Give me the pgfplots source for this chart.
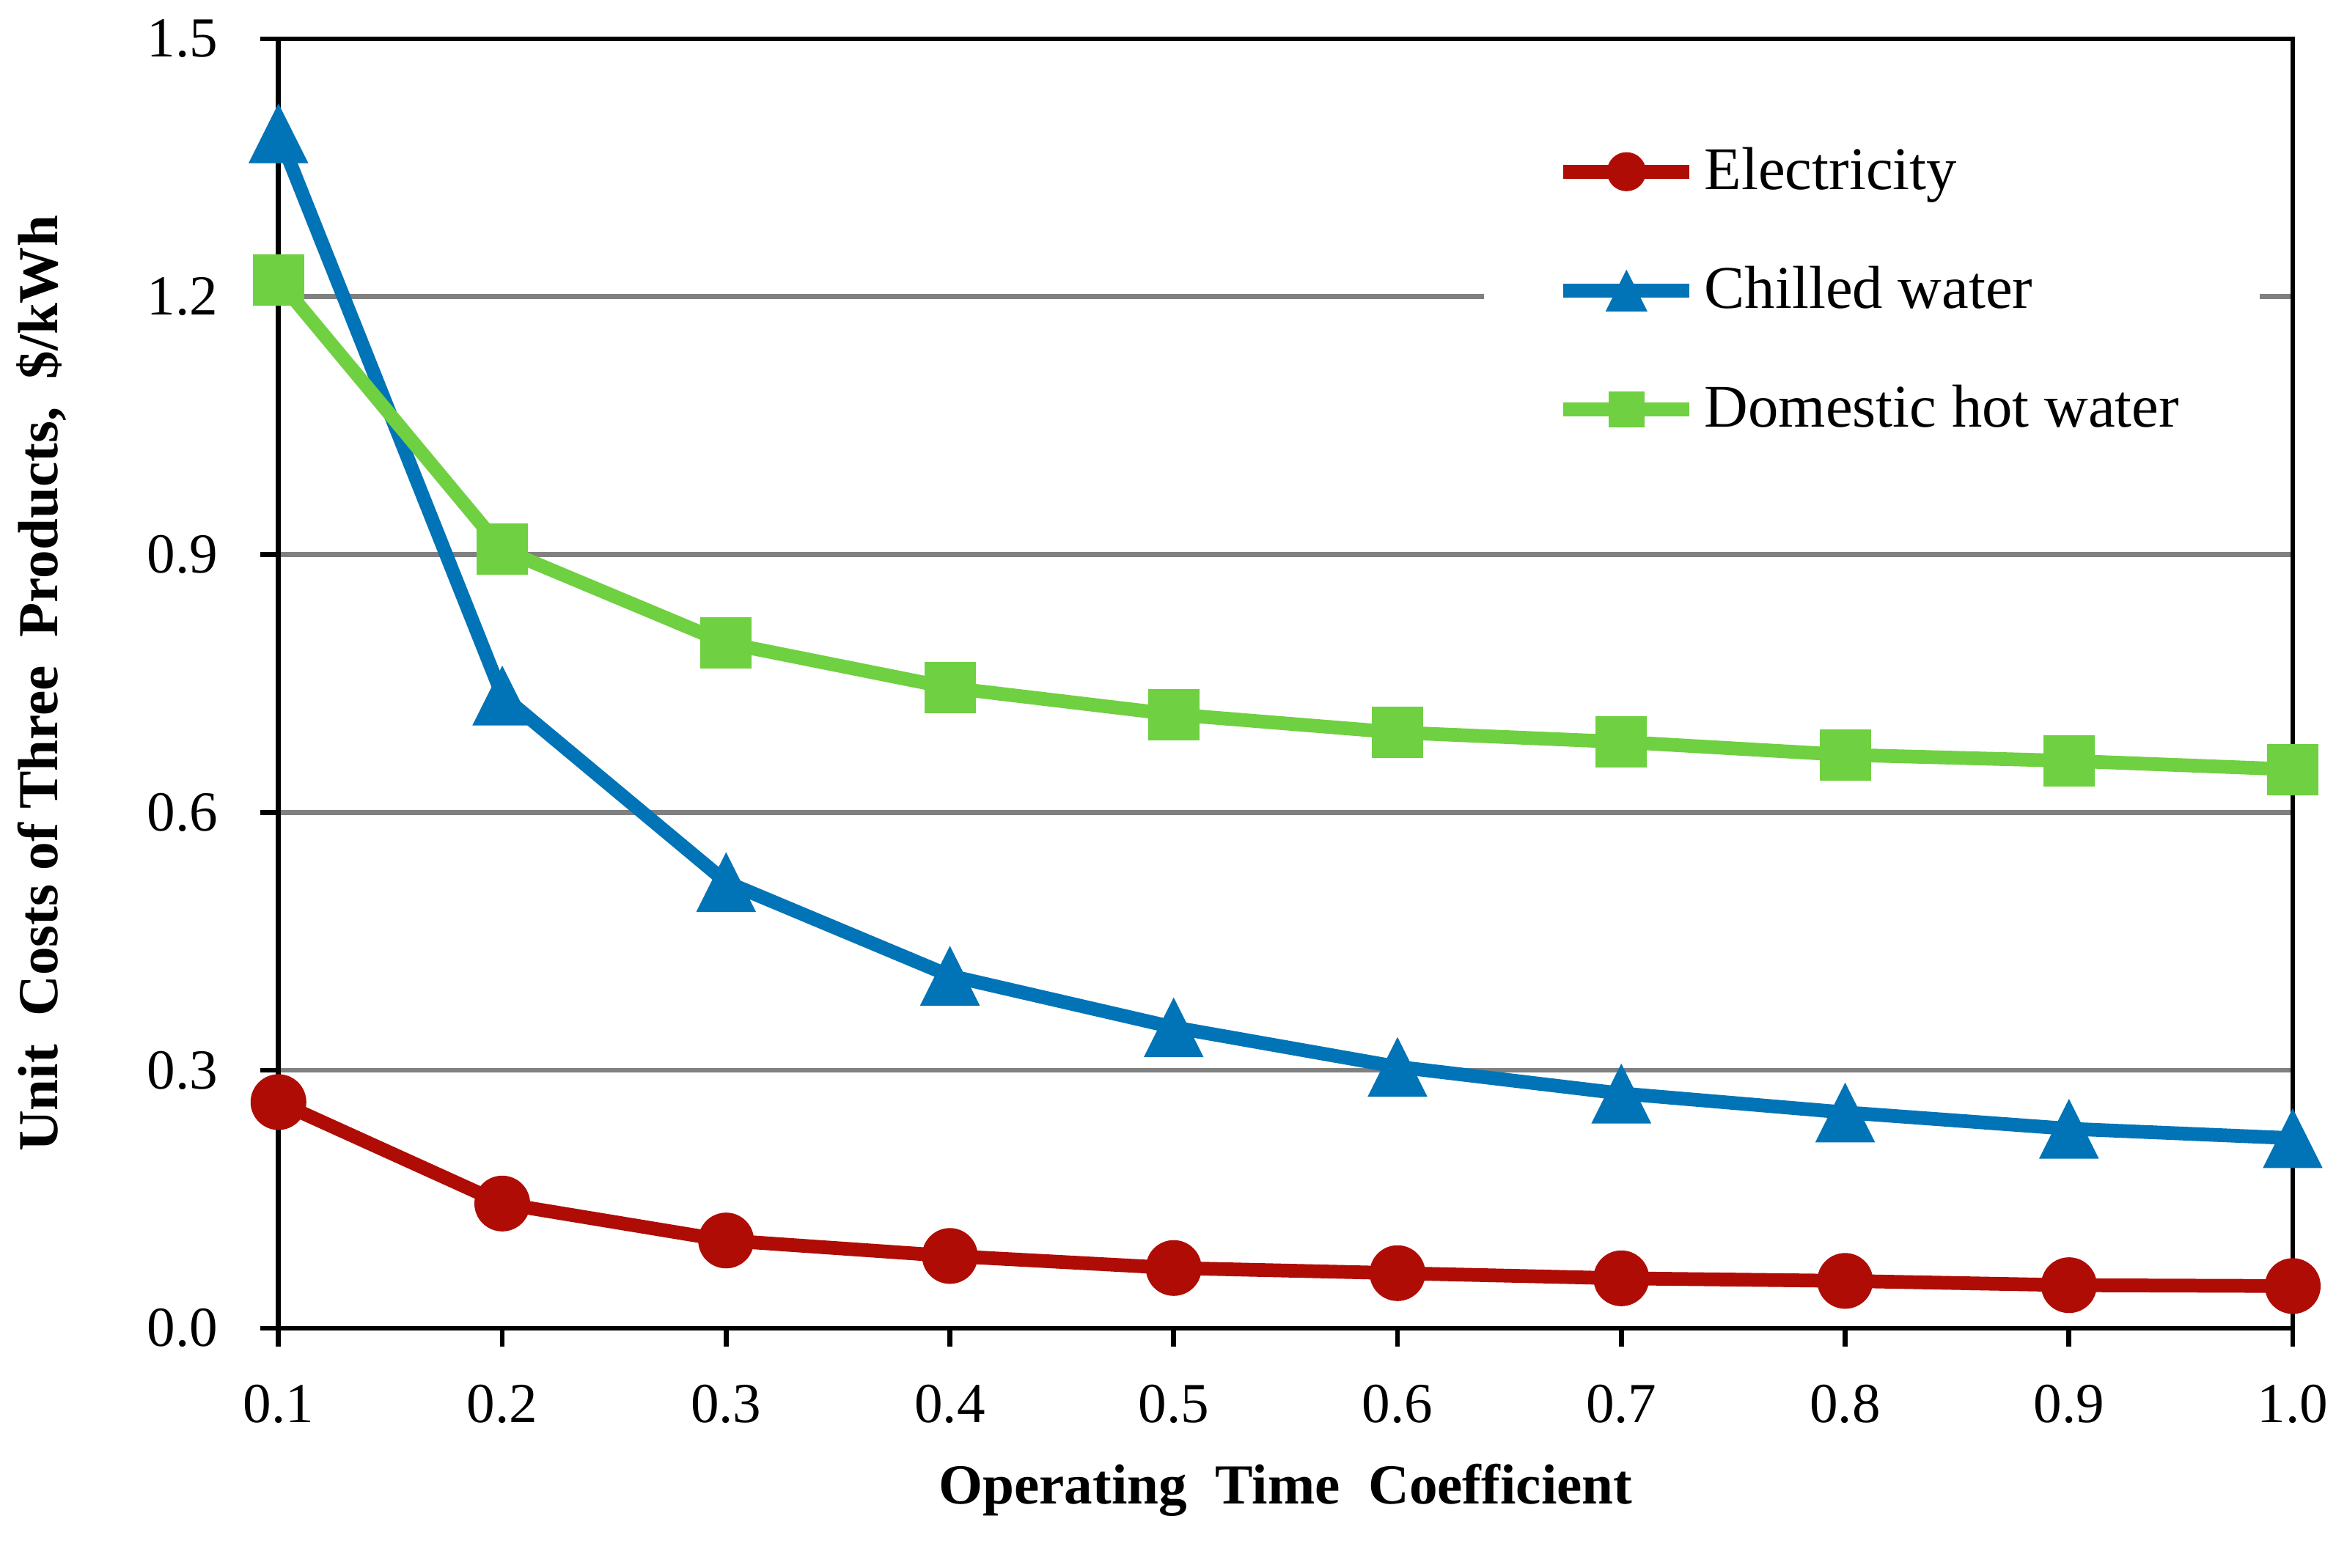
\documentclass[border=0pt]{standalone}
\usepackage{fontspec}
\setmainfont{Liberation Serif}
\usepackage{pgfplots}
\pgfplotsset{compat=1.18}

\definecolor{elec}{RGB}{176,12,6}
\definecolor{chill}{RGB}{0,116,183}
\definecolor{dhw}{RGB}{111,208,65}
\definecolor{gridgray}{RGB}{128,128,128}

% fill-only marks, sized like the spreadsheet ones
\pgfdeclareplotmark{xlcirc}{\pgfpathcircle{\pgfpointorigin}{\pgfplotmarksize}\pgfusepathqfill}
\pgfdeclareplotmark{xlsq}{\pgfpathrectangle{\pgfqpoint{-\pgfplotmarksize}{-\pgfplotmarksize}}{\pgfqpoint{2\pgfplotmarksize}{2\pgfplotmarksize}}\pgfusepathqfill}
\pgfdeclareplotmark{xltri}{%
  \pgfpathmoveto{\pgfqpoint{0pt}{\pgfplotmarksize}}%
  \pgfpathlineto{\pgfqpoint{-\pgfplotmarksize}{-\pgfplotmarksize}}%
  \pgfpathlineto{\pgfqpoint{\pgfplotmarksize}{-\pgfplotmarksize}}%
  \pgfpathclose\pgfusepathqfill}

\begin{document}
\begin{tikzpicture}[font=\fontsize{14}{17}\selectfont]
\begin{axis}[
  width=498.4pt, height=319.1pt, scale only axis,
  xmin=0.1, xmax=1.0, ymin=0, ymax=1.5,
  xtick={0.1,0.2,0.3,0.4,0.5,0.6,0.7,0.8,0.9,1.0},
  ytick={0,0.3,0.6,0.9,1.2,1.5},
  xtick pos=left, ytick pos=left,
  tick align=outside, major tick length=4.5pt,
  tick style={black, line width=1.2pt},
  axis line style={line width=1.2pt},
  ymajorgrids, grid style={gridgray, line width=1.2pt},
  /pgf/number format/assume math mode=true,
  xticklabel={\pgfmathprintnumber[fixed,fixed zerofill,precision=1]{\tick}},
  yticklabel={\pgfmathprintnumber[fixed,fixed zerofill,precision=1]{\tick}},
  yticklabel style={xshift=-7pt},
  xticklabel style={yshift=-6pt},
  xlabel={\textbf{Operating\ \ Time\ \ Coefficient}},
  ylabel={\textbf{Unit\ \ Costs of Three\ \ Products,\ \ \$/kWh}},
  every axis x label/.style={at={(axis description cs:0.5,-0.1254)}, anchor=center},
  every axis y label/.style={at={(axis description cs:-0.1176,0.5)}, anchor=center, rotate=90},
  legend cell align=left,
  legend style={at={(0.598,0.935)}, anchor=north west, draw=none, fill=white,
    inner xsep=18pt, inner ysep=4pt, row sep=13.5pt,
    font=\fontsize{15}{18}\selectfont},
  legend image code/.code={%
    \draw[#1, mark repeat=2, mark phase=2, every mark/.append style={scale=0.7}]
      plot coordinates {(0pt,0pt) (15.6pt,0pt) (31.2pt,0pt)};},
]
\addplot[color=elec, line width=3.4pt, mark=xlcirc, mark size=6.9pt, mark options={fill=elec}]
  coordinates {(0.1,0.263)(0.2,0.145)(0.3,0.102)(0.4,0.084)(0.5,0.070)(0.6,0.064)(0.7,0.058)(0.8,0.055)(0.9,0.050)(1.0,0.049)};
\addlegendentry{Electricity}
\addplot[color=chill, line width=3.4pt, mark=xltri, mark size=7.4pt, mark options={fill=chill}]
  coordinates {(0.1,1.390)(0.2,0.736)(0.3,0.519)(0.4,0.410)(0.5,0.350)(0.6,0.304)(0.7,0.273)(0.8,0.251)(0.9,0.232)(1.0,0.221)};
\addlegendentry{Chilled water}
\addplot[color=dhw, line width=3.4pt, mark=xlsq, mark size=6.35pt, mark options={fill=dhw}]
  coordinates {(0.1,1.219)(0.2,0.906)(0.3,0.797)(0.4,0.745)(0.5,0.714)(0.6,0.693)(0.7,0.682)(0.8,0.667)(0.9,0.660)(1.0,0.650)};
\addlegendentry{Domestic hot water}
\coordinate (bl) at (rel axis cs:0,0);
\end{axis}
\pgfresetboundingbox
\path[use as bounding box] (bl) ++(-68.9pt,-59.3pt) rectangle ++(578pt,388pt);
\end{tikzpicture}
\end{document}
